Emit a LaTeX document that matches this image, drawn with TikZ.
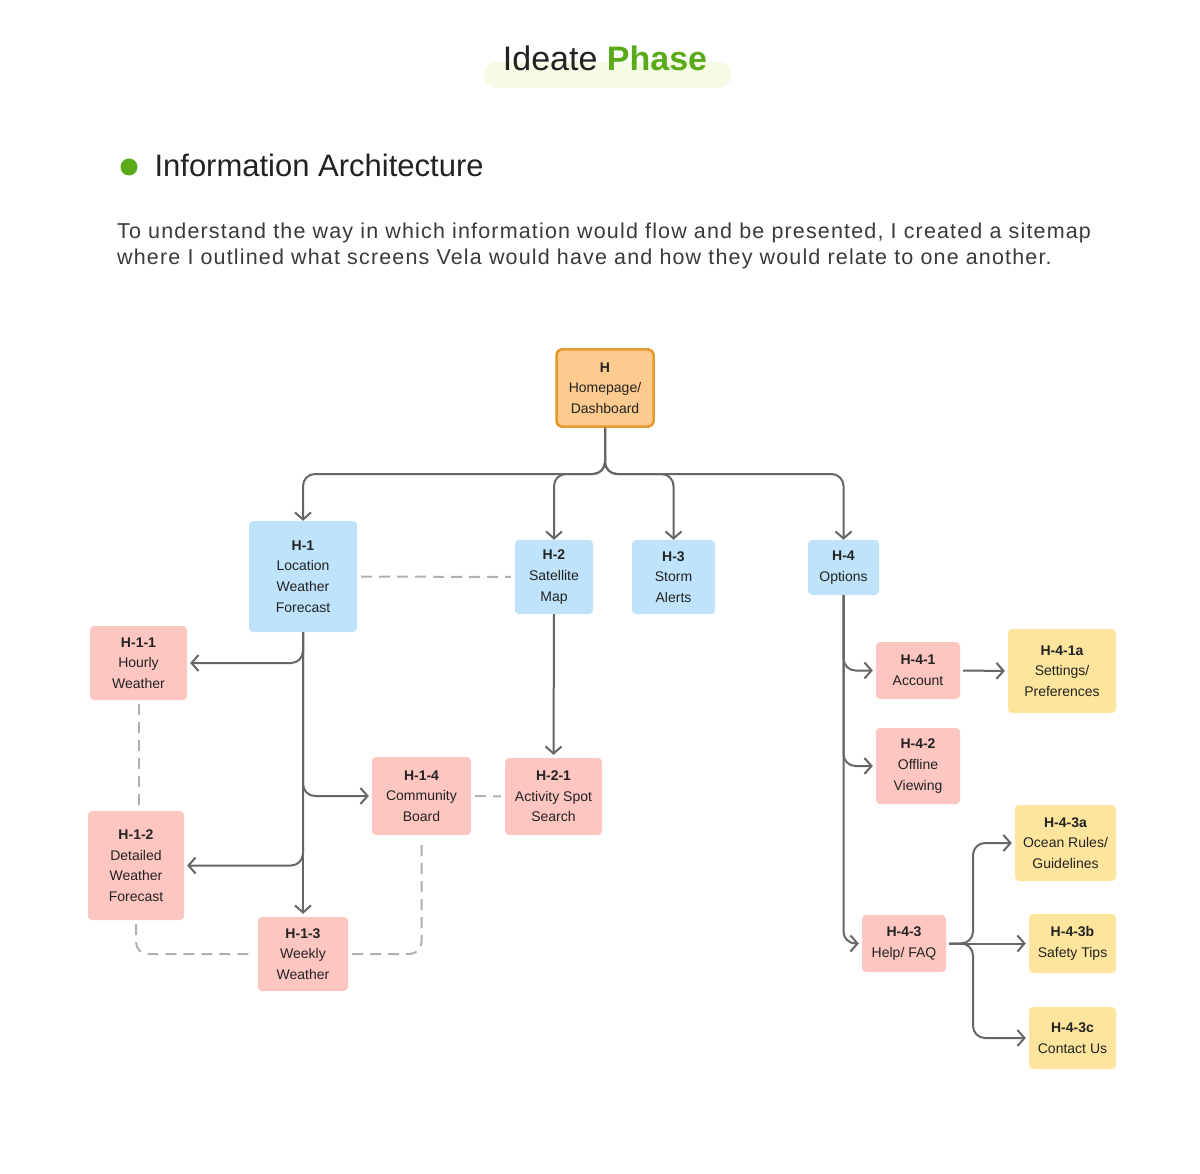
\documentclass[tikz,border=0pt]{standalone}
\usepackage{fontspec}
\setmainfont{Liberation Sans}
\newfontfamily\parafont[LetterSpace=5.4]{Liberation Sans}
\usetikzlibrary{arrows.meta}
\definecolor{blueF}{HTML}{BFE3FB}
\definecolor{pinkF}{HTML}{FEC6C1}
\definecolor{yellowF}{HTML}{FEE59E}
\definecolor{orangeF}{HTML}{FDCB8F}
\definecolor{orangeD}{HTML}{E49A2E}
\definecolor{lineC}{HTML}{666666}
\definecolor{dashC}{HTML}{B0B0B0}
\definecolor{greenT}{HTML}{5BAA1A}
\definecolor{hiliteC}{HTML}{F5FBE5}
\definecolor{textC}{HTML}{222222}
\definecolor{paraC}{HTML}{3A3A3A}
\begin{document}
\begin{tikzpicture}[x=1pt,y=-1pt,
 box/.style={rounded corners=4pt, inner sep=0pt, align=center, text=textC,
   font=\fontsize{14}{20.6}\selectfont},
 bluebox/.style={box, fill=blueF},
 pinkbox/.style={box, fill=pinkF},
 yellowbox/.style={box, fill=yellowF},
 rootbox/.style={box, fill=orangeF, draw=orangeD, line width=2.5pt, rounded corners=5pt},
 conn/.style={draw=lineC, line width=2pt, rounded corners=12pt,
   -{Straight Barb[length=7pt,width=16pt]}, shorten >=3pt},
 dashln/.style={draw=dashC, line width=2pt, dash pattern=on 11pt off 7pt,
   rounded corners=12pt, shorten <=4pt, shorten >=4pt},
 paraline/.style={anchor=west, inner sep=0pt, text=paraC,
   font=\parafont\fontsize{21.5}{26}\selectfont}
]
\useasboundingbox (0,0) rectangle (1200,1174);
\fill[white] (0,0) rectangle (1200,1174);

% title
\fill[hiliteC, rounded corners=12pt] (484,62) rectangle (731,88);
\node[font=\fontsize{34}{40}\selectfont, text=textC] (title) at (605,58)
  {Ideate \textcolor{greenT}{\textbf{Phase}}};

% header
\node[circle, fill=greenT, minimum size=17pt, inner sep=0pt] (bullet) at (129,167) {};
\node[anchor=west, font=\fontsize{31}{36}\selectfont, text=textC] (ia) at (151,165)
  {Information Architecture};

% paragraph
\node[paraline] (p1) at (117,233)
  {To understand the way in which information would flow and be presented, I created a sitemap};
\node[paraline] (p2) at (117,259)
  {where I outlined what screens Vela would have and how they would relate to one another.};

% nodes
\node[rootbox, minimum width=97pt, minimum height=77pt] (h) at (605,388)
  {\textbf{H}\\Homepage/\\Dashboard};
\node[bluebox, minimum width=108pt, minimum height=111pt] (h1) at (303,576.5)
  {\textbf{H-1}\\Location\\Weather\\Forecast};
\node[bluebox, minimum width=78pt, minimum height=74pt] (h2) at (554,577)
  {\textbf{H-2}\\Satellite\\Map};
\node[bluebox, minimum width=83pt, minimum height=74pt] (h3) at (673.5,577)
  {\textbf{H-3}\\Storm\\Alerts};
\node[bluebox, minimum width=71pt, minimum height=55pt] (h4) at (843.5,567.5)
  {\textbf{H-4}\\Options};

\node[pinkbox, minimum width=97pt, minimum height=74pt] (h11) at (138.5,663)
  {\textbf{H-1-1}\\Hourly\\Weather};
\node[pinkbox, minimum width=96pt, minimum height=109pt] (h12) at (136,865.5)
  {\textbf{H-1-2}\\Detailed\\Weather\\Forecast};
\node[pinkbox, minimum width=90pt, minimum height=74pt] (h13) at (303,954)
  {\textbf{H-1-3}\\Weekly\\Weather};
\node[pinkbox, minimum width=99pt, minimum height=78pt] (h14) at (421.5,796)
  {\textbf{H-1-4}\\Community\\Board};
\node[pinkbox, minimum width=97pt, minimum height=77pt] (h21) at (553.5,796.5)
  {\textbf{H-2-1}\\Activity Spot\\Search};

\node[pinkbox, minimum width=84pt, minimum height=57pt] (h41) at (918,670.5)
  {\textbf{H-4-1}\\Account};
\node[yellowbox, minimum width=108pt, minimum height=84pt] (h41a) at (1062,671)
  {\textbf{H-4-1a}\\Settings/\\Preferences};
\node[pinkbox, minimum width=84pt, minimum height=76pt] (h42) at (918,766)
  {\textbf{H-4-2}\\Offline\\Viewing};
\node[pinkbox, minimum width=84pt, minimum height=57pt] (h43) at (904,943.5)
  {\textbf{H-4-3}\\Help/ FAQ};
\node[yellowbox, minimum width=101pt, minimum height=76pt] (h43a) at (1065.5,843)
  {\textbf{H-4-3a}\\Ocean Rules/\\Guidelines};
\node[yellowbox, minimum width=87pt, minimum height=59pt] (h43b) at (1072.5,943.5)
  {\textbf{H-4-3b}\\Safety Tips};
\node[yellowbox, minimum width=87pt, minimum height=62pt] (h43c) at (1072.5,1038)
  {\textbf{H-4-3c}\\Contact Us};

% junctions
\coordinate (hj) at (605,474);
\coordinate (j43) at (973,943.5);

% connectors from H
\draw[conn] (h.south) -- (hj) -| ([yshift=-3pt]h1.north);
\draw[conn] (h.south) -- (hj) -| ([yshift=-3pt]h2.north);
\draw[conn] (h.south) -- (hj) -| ([yshift=-3pt]h3.north);
\draw[conn] (h.south) -- (hj) -| ([yshift=-3pt]h4.north);

% H-1 branches
\draw[conn] (h1.south) |- (h11.east);
\draw[conn] (h1.south) |- (h14.west);
\draw[conn] (h1.south) |- (h12.east);
\draw[conn] (h1.south) -- (h13.north);

% H-2
\draw[conn] (h2.south) -- (h21.north);

% H-4 branches
\draw[conn] (h4.south) |- (h41.west);
\draw[conn] (h4.south) |- (h42.west);
\draw[conn] (h4.south) |- (h43.west);
\draw[conn, shorten <=3pt] (h41.east) -- (h41a.west);

% H-4-3 branches
\draw[conn, shorten <=3pt] (h43.east) -- (j43) |- (h43a.west);
\draw[conn, shorten <=3pt] (h43.east) -- (h43b.west);
\draw[conn, shorten <=3pt] (h43.east) -- (j43) |- (h43c.west);

% dashed relations
\draw[dashln] (h1.east) -- (h2.west);
\draw[dashln] (h11.south) -- (h11.south |- h12.north);
\draw[dashln] (h14.east) -- (h21.west);
\draw[dashln] (h12.south) |- (h13.west);
\draw[dashln] (h13.east) -| (h14.south);
\end{tikzpicture}
\end{document}
